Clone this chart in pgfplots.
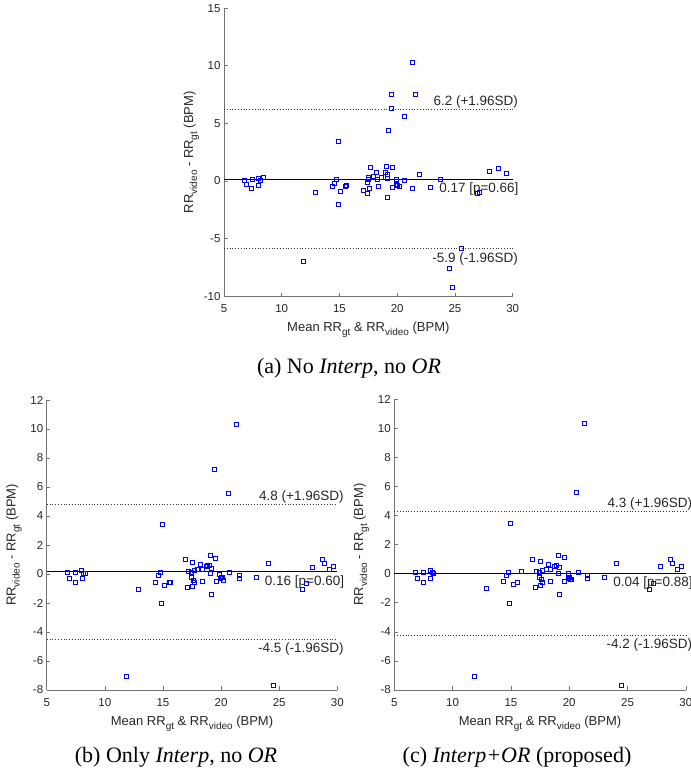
\documentclass[border=0pt]{standalone}
\usepackage{fontspec}
\setmainfont{Liberation Sans}
\newfontfamily\capfont{Liberation Serif}
\usepackage{pgfplots}
\pgfplotsset{compat=1.18}
\definecolor{axgray}{gray}{0.15}
\definecolor{axline}{gray}{0.45}
\newcommand\sub[1]{\raisebox{-4pt}{\fontsize{10}{10}\selectfont #1}}
\newcommand\annfont{\fontsize{13.5}{14}\selectfont}

\pgfplotsset{
  ba/.style={
    scale only axis,
    axis x line*=bottom, axis y line*=left,
    axis line style={axline, line width=0.7pt, -},
    tick align=inside, major tick length=3.5pt,
    tick style={axline, line width=0.6pt},
    xmin=5, xmax=30, xtick={5,10,...,30},
    /pgf/number format/assume math mode=true,
    tick label style={font=\fontsize{11.5}{12}\selectfont, text=axgray},
    xticklabel style={yshift=-5pt},
    label style={font=\fontsize{13}{14}\selectfont, text=axgray},
    xlabel={Mean RR\sub{gt} \& RR\sub{video} (BPM)},
    ylabel={RR\sub{video} - RR\sub{gt} (BPM)},
    xlabel style={at={(axis description cs:0.5,-0.122)}, anchor=base},
    ylabel style={at={(axis description cs:-0.107,0.5)}, anchor=base},
    clip=false,
  },
  pts/.style={only marks, mark=square, mark size=2pt, color=blue,
    mark options={solid, draw=blue, fill=none, line width=0.6pt}},
  meanline/.style={black, line width=0.8pt, no marks},
  loaline/.style={black!80, line width=0.6pt, dash pattern=on 0.8pt off 2pt, no marks},
}

\begin{document}
\begin{tikzpicture}
\useasboundingbox (0,0) rectangle (691pt,777pt);

% (a) No Interp, no OR
\begin{axis}[ba, at={(224pt,480.8pt)}, anchor=south west,
    width=288.7pt, height=288pt,
    ymin=-10, ymax=15, ytick={-10,-5,...,15}]
  \addplot[pts] coordinates {
    (6.76,0.09) (6.96,-0.26) (7.37,-0.61) (7.45,0.12) (8.0,0.2) (8.0,-0.35) (8.18,0.09) (8.4,0.32)
    (11.9,-6.93) (12.88,-0.95) (14.41,-0.46) (14.55,-0.2) (14.73,0.12) (14.87,3.41) (14.87,-1.99)
    (15.04,-0.92) (15.5,-0.46) (15.6,-0.37)
    (17.1,-0.77) (17.38,-1.03) (17.41,-0.11) (17.5,0.18) (17.56,-0.66) (17.64,1.22) (17.53,0.29)
    (17.96,0.38) (18.22,0.79) (18.36,-0.46) (18.28,0.18) (18.65,0.35) (18.94,0.73) (19.03,1.27)
    (19.14,0.61) (19.14,0.23) (19.11,-1.44) (19.2,4.37) (19.52,7.49) (19.52,6.3) (19.55,1.19)
    (19.55,-0.51) (19.9,0.15) (19.9,-0.25) (19.98,-0.37) (20.2,-0.46) (20.61,5.61) (20.65,0.06)
    (21.31,10.32) (21.34,-0.63) (21.54,7.55) (21.89,0.55) (22.87,-0.51) (23.77,0.18)
    (24.54,-7.54) (24.74,-9.27) (25.58,-5.8) (26.9,-1.07) (27.14,-0.98) (28.0,0.81) (28.76,1.1) (29.48,0.7)
  };
  \addplot[meanline] coordinates {(5,0.17) (30,0.17)};
  \addplot[loaline] coordinates {(5,6.22) (30,6.22)};
  \addplot[loaline] coordinates {(5,-5.88) (30,-5.88)};
  \node[anchor=south east, inner sep=1pt, xshift=6.5pt, font=\annfont, text=axgray] at (axis cs:30,6.22) {6.2 (+1.96SD)};
  \node[anchor=north east, inner sep=1pt, xshift=7pt, yshift=-2.5pt, font=\annfont, text=axgray] at (axis cs:30,0.17) {0.17 [p=0.66]};
  \node[anchor=north east, inner sep=1pt, xshift=6.5pt, yshift=-2.5pt, font=\annfont, text=axgray] at (axis cs:30,-5.88) {-5.9 (-1.96SD)};
\end{axis}

% (b) Only Interp, no OR
\begin{axis}[ba, at={(46.7pt,87pt)}, anchor=south west,
    width=290.6pt, height=290pt,
    ymin=-8, ymax=12, ytick={-8,-6,...,12}]
  \addplot[pts] coordinates {
    (6.81,0.09) (6.98,-0.32) (7.47,0.09) (7.44,-0.55) (8.01,0.25) (8.07,-0.32) (8.15,0.05) (8.33,0.05)
    (11.88,-7.03) (12.88,-1.03) (14.37,-0.57) (14.63,-0.11) (14.8,0.09) (14.92,3.43) (14.89,-2.02)
    (15.15,-0.8) (15.52,-0.57) (15.6,-0.57) (16.9,1.01) (17.1,-0.92) (17.16,0.16) (17.5,0.83)
    (17.44,0.09) (17.44,-0.25) (17.5,-0.83) (17.61,-0.41) (17.67,-0.6) (17.7,0.28) (17.99,0.32)
    (18.22,0.69) (18.36,-0.51) (18.42,0.32) (18.73,0.51) (18.82,0.57) (19.0,0.6) (19.05,1.26)
    (19.08,0.02) (19.16,-1.43) (19.13,0.41) (19.45,7.24) (19.54,1.1) (19.62,-0.51) (19.85,0.0)
    (19.91,-0.32) (20.02,-0.25) (20.1,-0.25) (20.2,-0.41) (20.65,5.56) (20.74,0.14) (21.34,10.32)
    (21.54,-0.11) (21.54,-0.32) (23.0,-0.25) (24.07,0.74) (24.52,-7.68) (26.96,-1.03) (27.33,-0.62)
    (27.88,0.48) (28.71,1.03) (28.88,0.71) (29.31,0.3) (29.66,0.55)
  };
  \addplot[meanline] coordinates {(5,0.16) (30,0.16)};
  \addplot[loaline] coordinates {(5,4.81) (30,4.81)};
  \addplot[loaline] coordinates {(5,-4.49) (30,-4.49)};
  \node[anchor=south east, inner sep=1pt, xshift=7.5pt, font=\annfont, text=axgray] at (axis cs:30,4.81) {4.8 (+1.96SD)};
  \node[anchor=north east, inner sep=1pt, xshift=8pt, yshift=-2.5pt, font=\annfont, text=axgray] at (axis cs:30,0.16) {0.16 [p=0.60]};
  \node[anchor=north east, inner sep=1pt, xshift=7.5pt, yshift=-2.5pt, font=\annfont, text=axgray] at (axis cs:30,-4.49) {-4.5 (-1.96SD)};
\end{axis}

% (c) Interp+OR (proposed)
\begin{axis}[ba, at={(394.3pt,87pt)}, anchor=south west,
    width=291.5pt, height=291pt,
    ymin=-8, ymax=12, ytick={-8,-6,...,12}]
  \addplot[pts] coordinates {
    (6.82,0.12) (7.0,-0.34) (7.48,0.07) (7.45,-0.57) (8.05,0.26) (8.08,-0.32) (8.22,0.07) (8.36,0.03)
    (11.9,-7.06) (12.87,-1.03) (14.38,-0.55) (14.61,-0.09) (14.78,0.1) (14.92,3.44) (14.89,-2.01)
    (15.18,-0.73) (15.52,-0.57) (15.58,-0.57) (15.89,0.19) (16.86,1.0) (17.09,-0.91) (17.14,0.17)
    (17.51,0.83) (17.4,0.07) (17.43,-0.22) (17.51,-0.82) (17.6,-0.39) (17.69,-0.57) (17.66,0.26)
    (18.0,0.3) (18.23,0.67) (18.34,-0.5) (18.4,0.3) (18.71,0.51) (18.88,0.58) (19.05,1.24)
    (19.08,0.0) (19.14,-1.42) (19.14,0.42) (19.54,1.1) (19.62,-0.52) (19.88,0.03) (19.91,-0.29)
    (20.02,-0.22) (20.08,-0.39) (20.22,-0.39) (20.65,5.58) (20.74,0.12) (21.33,10.33) (21.53,-0.11)
    (21.53,-0.34) (23.02,-0.27) (24.01,0.72) (24.5,-7.7) (26.89,-1.05) (27.24,-0.68) (27.84,0.49)
    (28.69,1.0) (28.83,0.72) (29.26,0.28) (29.6,0.53)
  };
  \addplot[meanline] coordinates {(5,0.04) (30,0.04)};
  \addplot[loaline] coordinates {(5,4.29) (30,4.29)};
  \addplot[loaline] coordinates {(5,-4.21) (30,-4.21)};
  \node[anchor=south east, inner sep=1pt, xshift=7.5pt, font=\annfont, text=axgray] at (axis cs:30,4.29) {4.3 (+1.96SD)};
  \node[anchor=north east, inner sep=1pt, xshift=8pt, yshift=-2.5pt, font=\annfont, text=axgray] at (axis cs:30,0.04) {0.04 [p=0.88]};
  \node[anchor=north east, inner sep=1pt, xshift=7.5pt, yshift=-2.5pt, font=\annfont, text=axgray] at (axis cs:30,-4.21) {-4.2 (-1.96SD)};
\end{axis}

% sub-captions
\node[anchor=base, font=\capfont\fontsize{22}{24}\selectfont] at (349pt,403pt) {(a) No \textit{Interp}, no \textit{OR}};
\node[anchor=base, font=\capfont\fontsize{22}{24}\selectfont] at (176pt,14pt) {(b) Only \textit{Interp}, no \textit{OR}};
\node[anchor=base, font=\capfont\fontsize{22}{24}\selectfont] at (517pt,14pt) {(c) \textit{Interp+OR} (proposed)};
\end{tikzpicture}
\end{document}
